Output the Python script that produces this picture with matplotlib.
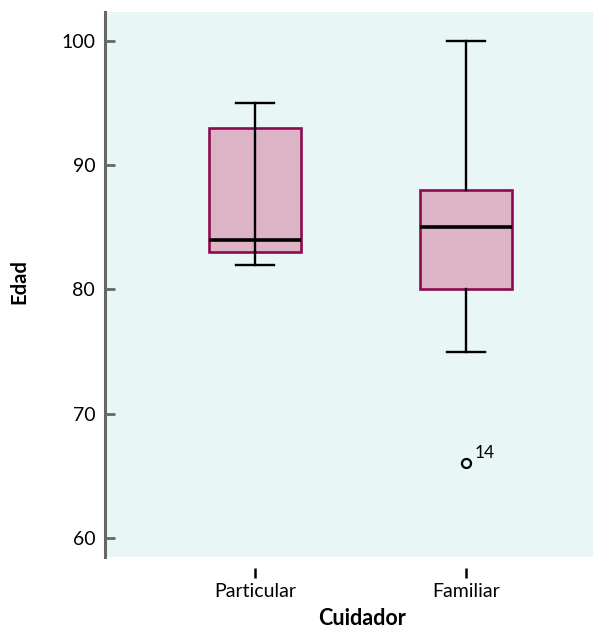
import matplotlib.pyplot as plt

plt.rcParams['font.family'] = ['Lato', 'DejaVu Sans']

# datos
grupos = ["Particular", "Familiar"]
bigote_inf = [82, 75]
q1 = [83, 80]
mediana = [84, 85]
q3 = [93, 88]
bigote_sup = [95, 100]
atipicos = [[], [66]]
etiquetas_atipicos = [[], ["14"]]

stats = []
for i, g in enumerate(grupos):
    stats.append({"label": g, "whislo": bigote_inf[i], "q1": q1[i], "med": mediana[i],
                  "q3": q3[i], "whishi": bigote_sup[i], "fliers": atipicos[i]})

fig = plt.figure(figsize=(5.93, 6.30), dpi=100)
ax = fig.add_axes([0.177, 0.116, 0.823, 0.865])
ax.set_facecolor("#e9f6f6")

pos = [1, 2]
ax.bxp(stats, positions=pos, widths=0.436, patch_artist=True,
       boxprops=dict(facecolor="#dcb4c6", edgecolor="#8e0a4f", linewidth=1.9),
       whiskerprops=dict(color="black", linewidth=1.7),
       capprops=dict(color="black", linewidth=1.7),
       capwidths=0.18,
       medianprops=dict(color="black", linewidth=2.6),
       flierprops=dict(marker="o", markerfacecolor="none", markeredgecolor="black",
                       markersize=6.5, markeredgewidth=1.6))

# en "Particular" el bigote cruza la caja
ax.vlines(pos[0], q1[0], q3[0], color="black", linewidth=1.7, zorder=3)

for i, p in enumerate(pos):
    for v, lab in zip(atipicos[i], etiquetas_atipicos[i]):
        ax.annotate(lab, (p, v), xytext=(6, 2), textcoords="offset points",
                    fontsize=12.5, ha="left", va="bottom")

ax.set_xlim(0.289, 2.60)
ax.set_ylim(58.47, 102.33)
ax.set_yticks([60, 70, 80, 90, 100])

for s in ["top", "right"]:
    ax.spines[s].set_visible(False)
ax.spines["bottom"].set_position(("outward", 8))
ax.spines["bottom"].set_color("none")
ax.spines["left"].set_color("#666666")
ax.spines["left"].set_linewidth(2.2)

ax.tick_params(axis="y", direction="in", length=7, width=2, color="#666666",
               labelsize=14, pad=7)
ax.tick_params(axis="x", direction="out", length=7, width=1.8, color="black",
               labelsize=14, pad=4)

ax.set_xlabel("Cuidador", fontsize=15.5, fontweight="bold")
ax.xaxis.set_label_coords(0.527, -0.093)
ax.set_ylabel("Edad", fontsize=14.5, fontweight="bold")
ax.yaxis.set_label_coords(-0.155, 0.505)

plt.savefig("out.png", dpi=100)
